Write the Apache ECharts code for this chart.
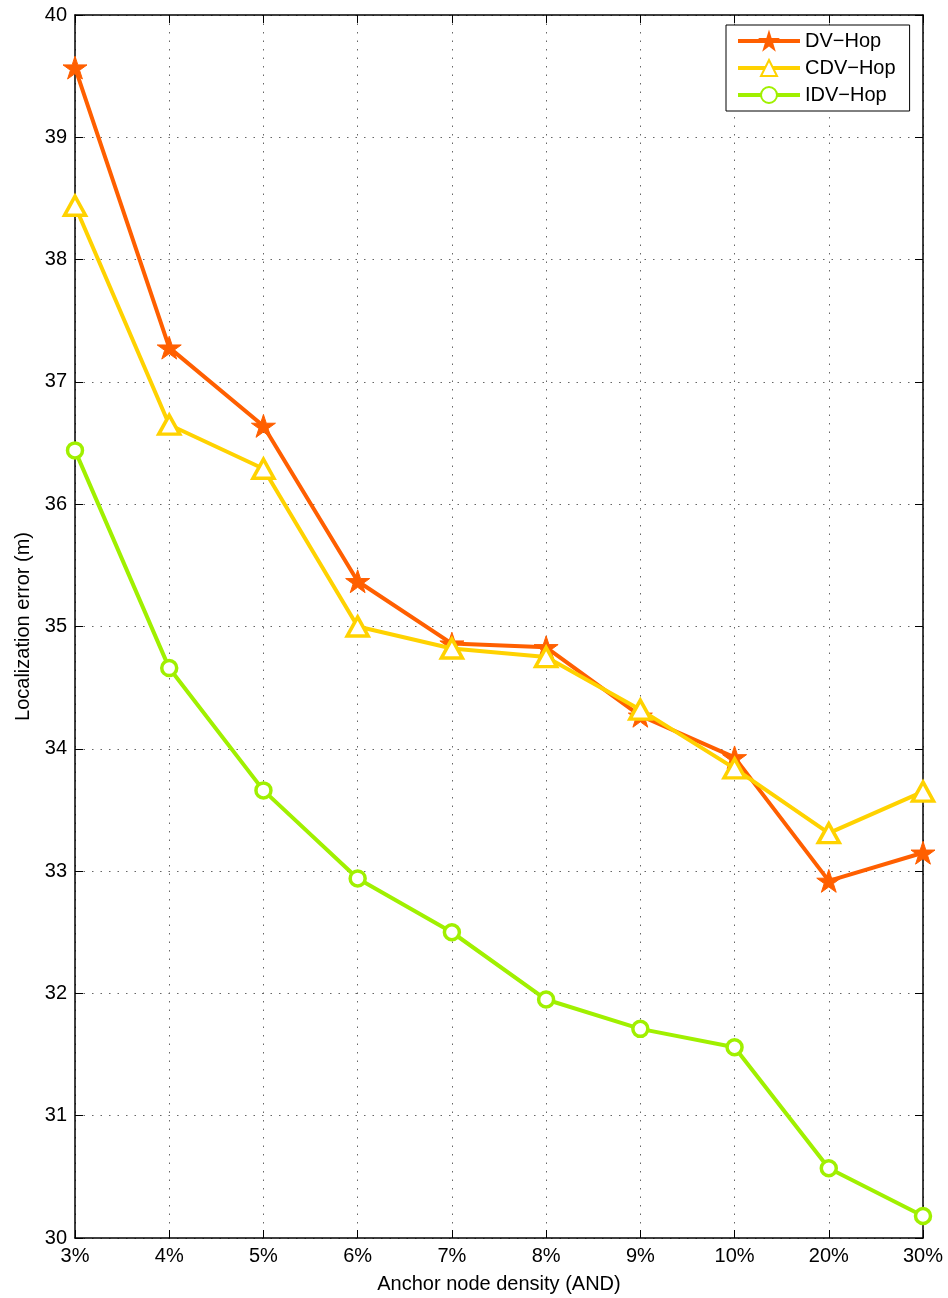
<!DOCTYPE html>
<html>
<head>
<meta charset="utf-8">
<script src="https://cdn.jsdelivr.net/npm/echarts@6/dist/echarts.min.js"></script>
<style>
  html, body { margin: 0; padding: 0; background: #fff; }
  #chart { width: 948px; height: 1298px; }
</style>
</head>
<body>
<div id="chart"></div>
<script>
// Anchor node density categories
const densities = ['3%', '4%', '5%', '6%', '7%', '8%', '9%', '10%', '20%', '30%'];

// Localization error (m) per algorithm
const dvHop  = [39.57, 37.28, 36.64, 35.37, 34.86, 34.83, 34.27, 33.93, 32.92, 33.15];
const cdvHop = [38.44, 36.65, 36.29, 35.00, 34.82, 34.75, 34.32, 33.84, 33.31, 33.65];
const idvHop = [36.44, 34.66, 33.66, 32.94, 32.50, 31.95, 31.71, 31.56, 30.57, 30.18];

const yTicks = { min: 30, max: 40, interval: 1 };

const FONT = '"Liberation Sans", Arial, sans-serif';
const STAR = 'path://M0,-10 L2.245,-3.09 L9.511,-3.09 L3.633,1.18 L5.878,8.09 L0,3.82 L-5.878,8.09 L-3.633,1.18 L-9.511,-3.09 L-2.245,-3.09 Z';

const gridDots = { show: true, lineStyle: { color: '#666', width: 1, type: [1.5, 7] } };
const inTick = { show: true, inside: true, length: 8, lineStyle: { color: '#000', width: 1 } };
const blackLine = { show: true, onZero: false, lineStyle: { color: '#000', width: 1.5 } };

const chart = echarts.init(document.getElementById('chart'));
chart.setOption({
  backgroundColor: '#fff',
  animation: false,
  textStyle: { fontFamily: FONT },
  grid: { left: 75, right: 25, top: 15, bottom: 60, containLabel: false, outerBoundsMode: 'none' },
  legend: {
    left: 726, top: 25,
    orient: 'vertical',
    backgroundColor: '#fff',
    borderColor: '#000', borderWidth: 1, borderRadius: 0,
    padding: [6, 14, 6, 10],
    itemWidth: 62, itemHeight: 20, itemGap: 7,
    lineStyle: { width: 4 },
    textStyle: { fontFamily: FONT, fontSize: 20, color: '#000' },
    data: ['DV\u2212Hop', 'CDV\u2212Hop', 'IDV\u2212Hop']
  },
  xAxis: [{
    type: 'category', data: densities, boundaryGap: false,
    axisLine: blackLine, axisTick: Object.assign({ alignWithLabel: true }, inTick),
    axisLabel: { fontFamily: FONT, fontSize: 20, color: '#000', margin: 8 },
    splitLine: gridDots,
    name: 'Anchor node density (AND)', nameLocation: 'middle', nameGap: 36,
    nameTextStyle: { fontFamily: FONT, fontSize: 20, color: '#000' }
  }, {
    type: 'category', data: densities, boundaryGap: false, position: 'top',
    axisLine: blackLine, axisTick: inTick, axisLabel: { show: false }, splitLine: { show: false }
  }],
  yAxis: [{
    type: 'value', min: yTicks.min, max: yTicks.max, interval: yTicks.interval,
    axisLine: blackLine, axisTick: inTick,
    axisLabel: { fontFamily: FONT, fontSize: 20, color: '#000', margin: 8 },
    splitLine: gridDots,
    name: 'Localization error (m)', nameLocation: 'middle', nameGap: 41, nameRotate: 90,
    nameTextStyle: { fontFamily: FONT, fontSize: 20, color: '#000' }
  }, {
    type: 'value', min: yTicks.min, max: yTicks.max, interval: yTicks.interval, position: 'right',
    axisLine: blackLine, axisTick: inTick, axisLabel: { show: false }, splitLine: { show: false }
  }],
  series: [{
    name: 'DV\u2212Hop', type: 'line', data: dvHop, z: 3,
    symbol: STAR, symbolSize: 24, symbolKeepAspect: true, showAllSymbol: true,
    lineStyle: { color: '#ff5f00', width: 4 },
    itemStyle: { color: '#ff5f00', borderColor: '#ff5f00', borderWidth: 1 }
  }, {
    name: 'CDV\u2212Hop', type: 'line', data: cdvHop, z: 4,
    symbol: 'triangle', symbolSize: [21, 19], showAllSymbol: true,
    lineStyle: { color: '#ffd200', width: 4 },
    itemStyle: { color: '#fff', borderColor: '#ffd200', borderWidth: 3.5 }
  }, {
    name: 'IDV\u2212Hop', type: 'line', data: idvHop, z: 5,
    symbol: 'circle', symbolSize: 15, showAllSymbol: true,
    lineStyle: { color: '#a0f000', width: 4 },
    itemStyle: { color: '#fff', borderColor: '#a0f000', borderWidth: 3.5 }
  }]
});
</script>
</body>
</html>
